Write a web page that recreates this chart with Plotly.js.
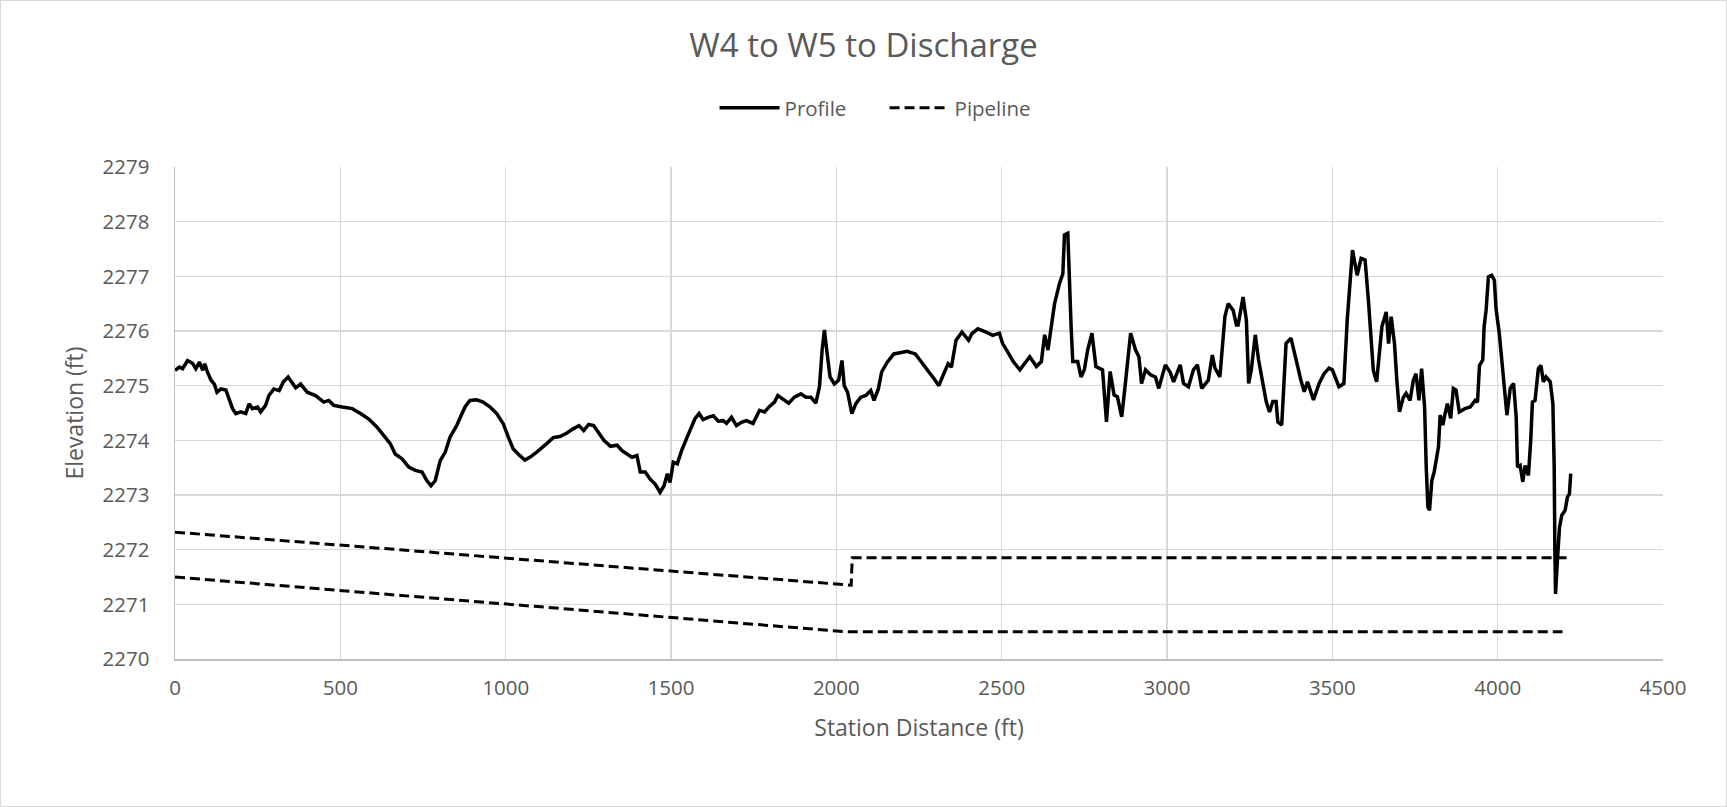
<!DOCTYPE html>
<html>
<head>
<meta charset="utf-8">
<script src="https://cdn.plot.ly/plotly-3.0.1.min.js"></script>
<style>
  html, body { margin: 0; padding: 0; background: #ffffff; }
  #wrap { position: relative; width: 1727px; height: 807px; }
  #chart { width: 1727px; height: 807px; }
  #frame { position: absolute; left: 0; top: 0; width: 1727px; height: 807px; box-sizing: border-box;
           border: 1px solid #d9d9d9; pointer-events: none; }
</style>
</head>
<body>
<div id="wrap"><div id="chart"></div><div id="frame"></div></div>
<script>
// ---- Data ----
const chartTitle = "W4 to W5 to Discharge";
const xAxisTitle = "Station Distance (ft)";
const yAxisTitle = "Elevation (ft)";

const profileStation = [
  0, 13, 23, 38, 53, 63, 74, 84, 90, 98, 109, 119, 127, 139, 154, 164, 174, 184, 199, 214,
  224, 234, 250, 259, 274, 284, 299, 315, 328, 342, 355, 365, 380, 400, 425, 450, 465, 480, 506, 536,
  561, 586, 611, 636, 651, 666, 687, 707, 727, 747, 762, 774, 787, 802, 817, 832, 852, 868, 878, 892,
  912, 932, 953, 973, 993, 1008, 1023, 1043, 1058, 1073, 1093, 1124, 1144, 1164, 1184, 1204, 1222, 1236, 1251, 1266,
  1281, 1297, 1317, 1337, 1352, 1367, 1382, 1397, 1407, 1422, 1437, 1452, 1467, 1479, 1489, 1497, 1507, 1519, 1532, 1547,
  1562, 1572, 1585, 1597, 1612, 1628, 1643, 1658, 1668, 1683, 1698, 1713, 1728, 1748, 1768, 1783, 1798, 1813, 1823, 1838,
  1856, 1873, 1893, 1908, 1923, 1938, 1949, 1957, 1964, 1971, 1981, 1994, 2007, 2017, 2024, 2034, 2047, 2059, 2074, 2089,
  2104, 2114, 2127, 2137, 2154, 2174, 2194, 2214, 2239, 2259, 2280, 2295, 2310, 2325, 2338, 2348, 2362, 2380, 2400, 2410,
  2428, 2453, 2473, 2493, 2503, 2515, 2535, 2555, 2585, 2605, 2620, 2630, 2640, 2650, 2660, 2675, 2685, 2690, 2700, 2710,
  2715, 2730, 2740, 2750, 2760, 2773, 2785, 2805, 2817, 2828, 2840, 2850, 2863, 2873, 2890, 2905, 2915, 2923, 2935, 2950,
  2965, 2975, 2995, 3010, 3020, 3040, 3050, 3065, 3080, 3092, 3105, 3125, 3137, 3145, 3160, 3175, 3185, 3200, 3210, 3215,
  3230, 3240, 3247, 3255, 3267, 3277, 3287, 3300, 3310, 3320, 3330, 3335, 3347, 3360, 3375, 3390, 3405, 3415, 3425, 3443,
  3460, 3475, 3490, 3500, 3520, 3535, 3545, 3561, 3575, 3587, 3599, 3609, 3619, 3624, 3634, 3650, 3663, 3670, 3678, 3688,
  3695, 3703, 3715, 3723, 3735, 3745, 3753, 3762, 3770, 3779, 3784, 3789, 3794, 3801, 3808, 3821, 3826, 3834, 3841, 3848,
  3858, 3866, 3874, 3884, 3901, 3917, 3932, 3939, 3945, 3955, 3959, 3965, 3972, 3982, 3990, 3995, 4005, 4015, 4028, 4038,
  4048, 4056, 4060, 4068, 4076, 4083, 4093, 4100, 4105, 4113, 4123, 4131, 4138, 4146, 4159, 4167, 4171, 4173, 4175, 4180,
  4187, 4194, 4204, 4211, 4217, 4221
];
const profileElev = [
  2275.28, 2275.34, 2275.31, 2275.46, 2275.41, 2275.31, 2275.43, 2275.28, 2275.40, 2275.25, 2275.10, 2275.03, 2274.88, 2274.94, 2274.92, 2274.73, 2274.58, 2274.49, 2274.52, 2274.49,
  2274.67, 2274.58, 2274.61, 2274.52, 2274.64, 2274.82, 2274.94, 2274.91, 2275.07, 2275.16, 2275.03, 2274.96, 2275.03, 2274.88, 2274.82, 2274.70, 2274.73, 2274.64, 2274.61, 2274.58,
  2274.49, 2274.39, 2274.24, 2274.06, 2273.94, 2273.75, 2273.66, 2273.51, 2273.45, 2273.42, 2273.26, 2273.17, 2273.26, 2273.63, 2273.78, 2274.06, 2274.27, 2274.49, 2274.62, 2274.73,
  2274.74, 2274.70, 2274.61, 2274.49, 2274.30, 2274.06, 2273.84, 2273.72, 2273.64, 2273.69, 2273.78, 2273.94, 2274.05, 2274.07, 2274.13, 2274.21, 2274.27, 2274.18, 2274.29, 2274.27,
  2274.15, 2274.00, 2273.89, 2273.91, 2273.81, 2273.75, 2273.69, 2273.72, 2273.42, 2273.42, 2273.29, 2273.20, 2273.05, 2273.17, 2273.39, 2273.23, 2273.60, 2273.57, 2273.81, 2274.03,
  2274.24, 2274.39, 2274.49, 2274.38, 2274.42, 2274.45, 2274.35, 2274.36, 2274.31, 2274.42, 2274.27, 2274.33, 2274.36, 2274.31, 2274.55, 2274.52, 2274.62, 2274.70, 2274.82, 2274.76,
  2274.68, 2274.79, 2274.85, 2274.79, 2274.79, 2274.68, 2274.98, 2275.65, 2276.02, 2275.65, 2275.16, 2275.03, 2275.10, 2275.46, 2275.00, 2274.88, 2274.49, 2274.67, 2274.79, 2274.82,
  2274.91, 2274.73, 2274.94, 2275.25, 2275.43, 2275.58, 2275.61, 2275.63, 2275.58, 2275.43, 2275.25, 2275.13, 2275.00, 2275.22, 2275.40, 2275.34, 2275.83, 2275.98, 2275.83, 2275.95,
  2276.04, 2275.98, 2275.92, 2275.96, 2275.77, 2275.65, 2275.44, 2275.29, 2275.53, 2275.35, 2275.44, 2275.93, 2275.65, 2276.08, 2276.50, 2276.87, 2277.05, 2277.76, 2277.79, 2276.08,
  2275.44, 2275.44, 2275.16, 2275.29, 2275.65, 2275.96, 2275.35, 2275.29, 2274.34, 2275.26, 2274.83, 2274.80, 2274.43, 2274.98, 2275.96, 2275.65, 2275.53, 2275.04, 2275.29, 2275.20,
  2275.16, 2274.95, 2275.38, 2275.24, 2275.07, 2275.38, 2275.04, 2274.98, 2275.29, 2275.38, 2274.95, 2275.10, 2275.56, 2275.32, 2275.16, 2276.26, 2276.50, 2276.38, 2276.11, 2276.11,
  2276.62, 2276.20, 2275.04, 2275.29, 2275.93, 2275.47, 2275.10, 2274.71, 2274.52, 2274.71, 2274.71, 2274.34, 2274.28, 2275.77, 2275.87, 2275.47, 2275.10, 2274.89, 2275.07, 2274.74,
  2275.04, 2275.22, 2275.32, 2275.29, 2274.98, 2275.04, 2276.20, 2277.48, 2277.02, 2277.33, 2277.30, 2276.57, 2275.71, 2275.28, 2275.07, 2276.08, 2276.35, 2275.77, 2276.26, 2275.77,
  2275.10, 2274.52, 2274.79, 2274.86, 2274.73, 2275.10, 2275.22, 2274.73, 2275.31, 2274.61, 2273.51, 2272.78, 2272.72, 2273.27, 2273.42, 2273.88, 2274.46, 2274.28, 2274.49, 2274.67,
  2274.40, 2274.95, 2274.92, 2274.52, 2274.58, 2274.61, 2274.73, 2274.70, 2275.37, 2275.47, 2276.08, 2276.38, 2276.99, 2277.02, 2276.93, 2276.41, 2275.95, 2275.34, 2274.46, 2274.95,
  2275.04, 2274.43, 2273.51, 2273.54, 2273.24, 2273.54, 2273.36, 2274.00, 2274.70, 2274.73, 2275.31, 2275.37, 2275.07, 2275.16, 2275.07, 2274.67, 2273.51, 2271.99, 2271.19, 2271.74,
  2272.41, 2272.63, 2272.72, 2272.96, 2273.02, 2273.39
];

// Pipeline: two dashed runs in one series, separated by a gap (null)
const pipeStation = [0, 2045, 2048, 4212, null, 0, 2025, 4196];
const pipeElev    = [2272.32, 2271.35, 2271.85, 2271.85, null, 2271.50, 2270.50, 2270.50];

const xTicks = [0, 500, 1000, 1500, 2000, 2500, 3000, 3500, 4000, 4500];
const yTicks = [2270, 2271, 2272, 2273, 2274, 2275, 2276, 2277, 2278, 2279];

// ---- Chart ----
const FONT = "'Open Sans', 'Noto Sans', sans-serif";
const TXT = "#595959";

const traces = [
  { type: "scatter", mode: "lines", name: "Profile",
    x: profileStation, y: profileElev,
    line: { color: "#000000", width: 3.5 } },
  { type: "scatter", mode: "lines", name: "Pipeline",
    x: pipeStation, y: pipeElev, connectgaps: false,
    line: { color: "#000000", width: 3, dash: "10px,5px" } }
];

const layout = {
  width: 1727, height: 807,
  paper_bgcolor: "#ffffff", plot_bgcolor: "#ffffff",
  font: { family: FONT, color: TXT, size: 20 },
  margin: { l: 175, r: 64, t: 167, b: 148, pad: 0 },
  title: { text: chartTitle, font: { family: FONT, size: 33, color: TXT },
           x: 0.5, xref: "container", xanchor: "center",
           y: 0.9436, yref: "container", yanchor: "middle" },
  showlegend: true,
  legend: { orientation: "h", x: 0.3626, xanchor: "left", y: 1.12, yanchor: "middle",
            itemwidth: 60, entrywidth: 95, entrywidthmode: "pixels",
            font: { family: FONT, size: 20.5, color: TXT }, bgcolor: "rgba(0,0,0,0)" },
  xaxis: {
    range: [0, 4500], tickvals: xTicks, ticktext: xTicks.map(String),
    showgrid: true, gridcolor: "#d9d9d9", gridwidth: 1.5,
    showline: true, linecolor: "#bfbfbf", linewidth: 1.5,
    zeroline: false, ticks: "", ticklabelstandoff: 10,
    tickfont: { family: FONT, size: 20.5, color: TXT },
    automargin: true,
    title: { text: xAxisTitle, font: { family: FONT, size: 23, color: TXT }, standoff: 20 }
  },
  yaxis: {
    range: [2270, 2279], tickvals: yTicks, ticktext: yTicks.map(String),
    showgrid: true, gridcolor: "#d9d9d9", gridwidth: 1.5,
    showline: true, linecolor: "#bfbfbf", linewidth: 1.5,
    zeroline: false, ticks: "", ticklabelstandoff: 20,
    tickfont: { family: FONT, size: 20.5, color: TXT },
    automargin: true,
    title: { text: yAxisTitle, font: { family: FONT, size: 23, color: TXT }, standoff: 12 }
  }
};

Plotly.newPlot("chart", traces, layout, { displayModeBar: false, staticPlot: true });
</script>
</body>
</html>
